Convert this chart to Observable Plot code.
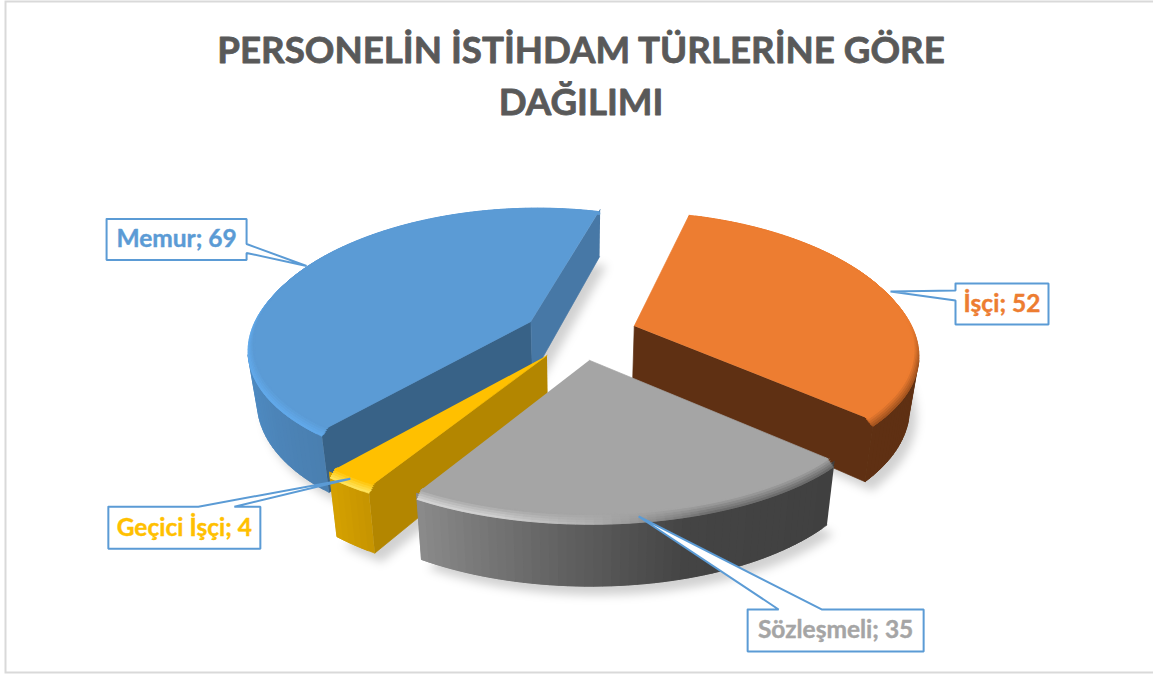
<!DOCTYPE html>
<html><head><meta charset="utf-8">
<script src="https://cdn.jsdelivr.net/npm/d3@7"></script>
<script src="https://cdn.jsdelivr.net/npm/@observablehq/plot@0.6"></script>
<style>html,body{margin:0;padding:0;background:#fff}svg{display:block;max-width:none}</style>
</head><body><div id="chart"></div>
<script>
// data
const categories = ["Memur", "İşçi", "Sözleşmeli", "Geçici İşçi"];
const values = [69, 52, 35, 4];
const titleLines = ["PERSONELİN İSTİHDAM TÜRLERİNE GÖRE", "DAĞILIMI"];

// styles (stops run along each slice's arc, 0 = start, 1 = end)
const topColors = ["#5b9bd5", "#ed7d31", "#a5a5a5", "#ffc000"];
const sideStart = ["#386287", "#5f3013", "#404040", "#b38600"];
const sideEnd = ["#4778a6", "#5f3013", "#404040", "#b38600"];
const rimStops = [
  [[0, "#4a7fb0"], [0.3, "#5190ca"], [1, "#5190ca"]],
  [[0, "#5f3013"], [1, "#5f3013"]],
  [[0, "#404040"], [0.4, "#444444"], [0.65, "#606060"], [1, "#8c8c8c"]],
  [[0, "#c79500"], [1, "#d6a200"]]
];
const bevelStops = [
  [[0, "#62a9ea"], [0.42, "#62a9ea"], [0.58, "#5b9bd5"], [1, "#5b9bd5"]],
  [[0, "#ed7d31"], [0.6, "#ed7d31"], [0.76, "#a5551f"], [1, "#a5551f"]],
  [[0, "#6a6a6a"], [0.35, "#707070"], [0.6, "#b0b0b0"], [0.8, "#cfcfcf"], [1, "#d5d5d5"]],
  [[0, "#ffe35a"], [1, "#ffe35a"]]
];
const drawOrder = [1, 0, 3, 2];

// projection of the exploded, tilted pie
const view = {cx: 580, cy: 333, R: 283, Rk: 132, p: 0.16, py: 0.12, explode: 0.2, depth: 55, taper: 0.03};
const startDeg = 219.75;
const arcs = d3.pie().sort(null).startAngle((startDeg * Math.PI) / 180).endAngle(((startDeg + 360) * Math.PI) / 180)(values);
const mid = (a) => (a.startAngle + a.endAngle) / 2;
function project(a, theta, r, z) {
  const b = mid(a);
  const x = r * Math.sin(theta) + view.explode * Math.sin(b);
  const yf = -(r * Math.cos(theta) + view.explode * Math.cos(b));
  const s = 1 / (1 - view.p * yf), sy = 1 / (1 - view.py * yf);
  return [
    view.cx + view.R * x * s * (1 - view.taper * z),
    view.cy + view.Rk * yf * sy + z * view.depth * s
  ];
}
const area = (pts) => d3.sum(pts, (p, i) => { const q = pts[(i + 1) % pts.length]; return p[0] * q[1] - q[0] * p[1]; });

const rows = [], shadow = [];
let id = 0;
function poly(pts, color) { id++; for (const [x, y] of pts) rows.push({id, x, y, color}); }
const bevel = 0.02, bevelDrop = 0.09;
const STEP = (1.5 * Math.PI) / 180;

for (const i of drawOrder) {
  const a = arcs[i];
  const n = Math.ceil((a.endAngle - a.startAngle) / STEP);
  const thetas = d3.range(n + 1).map((j) => a.startAngle + ((a.endAngle - a.startAngle) * j) / n);
  const scale = (stops) => d3.scaleLinear().domain(stops.map((d) => d[0])).range(stops.map((d) => d[1])).interpolate(d3.interpolateRgb).clamp(true);
  const rim = scale(rimStops[i]), bev = scale(bevelStops[i]);
  const P = (t, r, z) => project(a, t, r, z);

  // ground shadow
  for (const [x, y] of [P(0, 0, 1), ...thetas.map((t) => P(t, 1, 1))]) shadow.push({id: i, x: x + 7, y: y + 9});

  // cut faces
  const quad = (p, q, color) => {
    const pts = [p(0), q(0), q(1), p(1)];
    if (area(pts) < 0) poly(pts, color);
  };
  const apex = (z) => P(0, 0, z);
  quad((z) => apex(z), (z) => P(a.startAngle, 1, z), sideStart[i]);
  quad((z) => P(a.endAngle, 1, z), (z) => apex(z), sideEnd[i]);

  // outer wall; each strip overlaps the next so no seam shows
  for (let j = 0; j < n; j++) {
    const t0 = thetas[j], t1 = thetas[j + 1], t2 = thetas[Math.min(j + 2, n)];
    if (area([P(t0, 1, 0), P(t1, 1, 0), P(t1, 1, 1), P(t0, 1, 1)]) < 0)
      poly([P(t0, 1, 0), P(t2, 1, 0), P(t2, 1, 1), P(t0, 1, 1)], d3.color(rim(j / n)).formatHex());
  }

  // top with bevel layers, outermost first
  const layers = 5;
  for (let l = 0; l < layers; l++) {
    const u = l / (layers - 1);
    const r = 1 - bevel * u;
    for (let j = 0; j < n; j++) {
      const t0 = thetas[j], t2 = thetas[Math.min(j + 2, n)];
      const col = d3.interpolateRgb(bev(j / n), topColors[i])(u);
      const z0 = bevelDrop * (1 - u), zn = bevelDrop * (1 - (l + 1) / layers);
      poly([P(t0, r, z0), P(t2, r, z0), P(t2, r - 0.012, zn), P(t0, r - 0.012, zn)], d3.color(col).formatHex());
    }
  }
  poly([P(0, 0, 0), ...thetas.map((t) => P(t, 1 - bevel - 0.005, 0))], topColors[i]);
}

// callouts: the tip sits near each slice's bisector, the box is placed relative to the tip
const calloutLayout = [
  {f: 0.5, r: 0.985, dx: -200, dy: -47, w: 140, h: 41, side: "right", b0: 25, b1: 34},
  {f: 0.505, r: 1.0, dx: 65, dy: -8, w: 93, h: 41, side: "left", b0: 7, b1: 17},
  {f: 0.51, r: 1.0, dx: 109, dy: 93, w: 176, h: 42, side: "top", b0: 31, b1: 74},
  {f: 0.5, r: 0.99, dx: -242, dy: 28, w: 152, h: 42, side: "top", b0: 90, b1: 126}
];
const calloutRows = [], labelRows = [];
categories.forEach((c, i) => {
  const L = calloutLayout[i], a = arcs[i];
  const [tx, ty] = project(a, a.startAngle + L.f * (a.endAngle - a.startAngle), L.r, 0);
  const x0 = tx + L.dx, y0 = ty + L.dy, x1 = x0 + L.w, y1 = y0 + L.h;
  const tip = [tx, ty];
  let pts;
  if (L.side === "right") pts = [[x0, y0], [x1, y0], [x1, y0 + L.b0], tip, [x1, y0 + L.b1], [x1, y1], [x0, y1], [x0, y0]];
  else if (L.side === "left") pts = [[x0, y0], [x1, y0], [x1, y1], [x0, y1], [x0, y0 + L.b1], tip, [x0, y0 + L.b0], [x0, y0]];
  else pts = [[x0, y0], [x0 + L.b0, y0], tip, [x0 + L.b1, y0], [x1, y0], [x1, y1], [x0, y1], [x0, y0]];
  for (const [x, y] of pts) calloutRows.push({id: i, x, y});
  labelRows.push({x: (x0 + x1) / 2, y: (y0 + y1) / 2, text: `${c}; ${values[i]}`, color: topColors[i]});
});

const chart = Plot.plot({
  width: 1153, height: 675,
  marginTop: 0, marginRight: 0, marginBottom: 0, marginLeft: 0,
  x: {type: "identity", axis: null},
  y: {type: "identity", axis: null},
  color: {type: "identity"},
  style: {background: "#fff", fontFamily: "Lato"},
  marks: [
    Plot.frame({stroke: "#d9d9d9", strokeWidth: 2, insetLeft: 5, insetTop: 1, insetBottom: 3, insetRight: -6}),
    Plot.line(shadow, {x: "x", y: "y", z: "id", fill: "#000", stroke: "none", fillOpacity: 0.18, imageFilter: "blur(5px)"}),
    Plot.line(rows, {x: "x", y: "y", z: "id", fill: "color", stroke: "color", strokeWidth: 0.7}),
    Plot.line(calloutRows, {x: "x", y: "y", z: "id", fill: "#fff", stroke: "#5b9bd5", strokeWidth: 2, strokeLinejoin: "miter"}),
    Plot.text(labelRows, {x: "x", y: "y", text: "text", fill: "color", stroke: "color", strokeWidth: 0.4, fontSize: 24.5, fontWeight: 700, fontFamily: "Lato"}),
    Plot.text([titleLines.join("\n")], {frameAnchor: "top", lineAnchor: "top", dx: 4, dy: 26, lineHeight: 1.417, fontSize: 36.7, fontWeight: 700, fontFamily: "Lato", fill: "#595959", stroke: "#595959", strokeWidth: 0.8})
  ]
});
document.getElementById("chart").append(chart);
</script>
</body></html>
